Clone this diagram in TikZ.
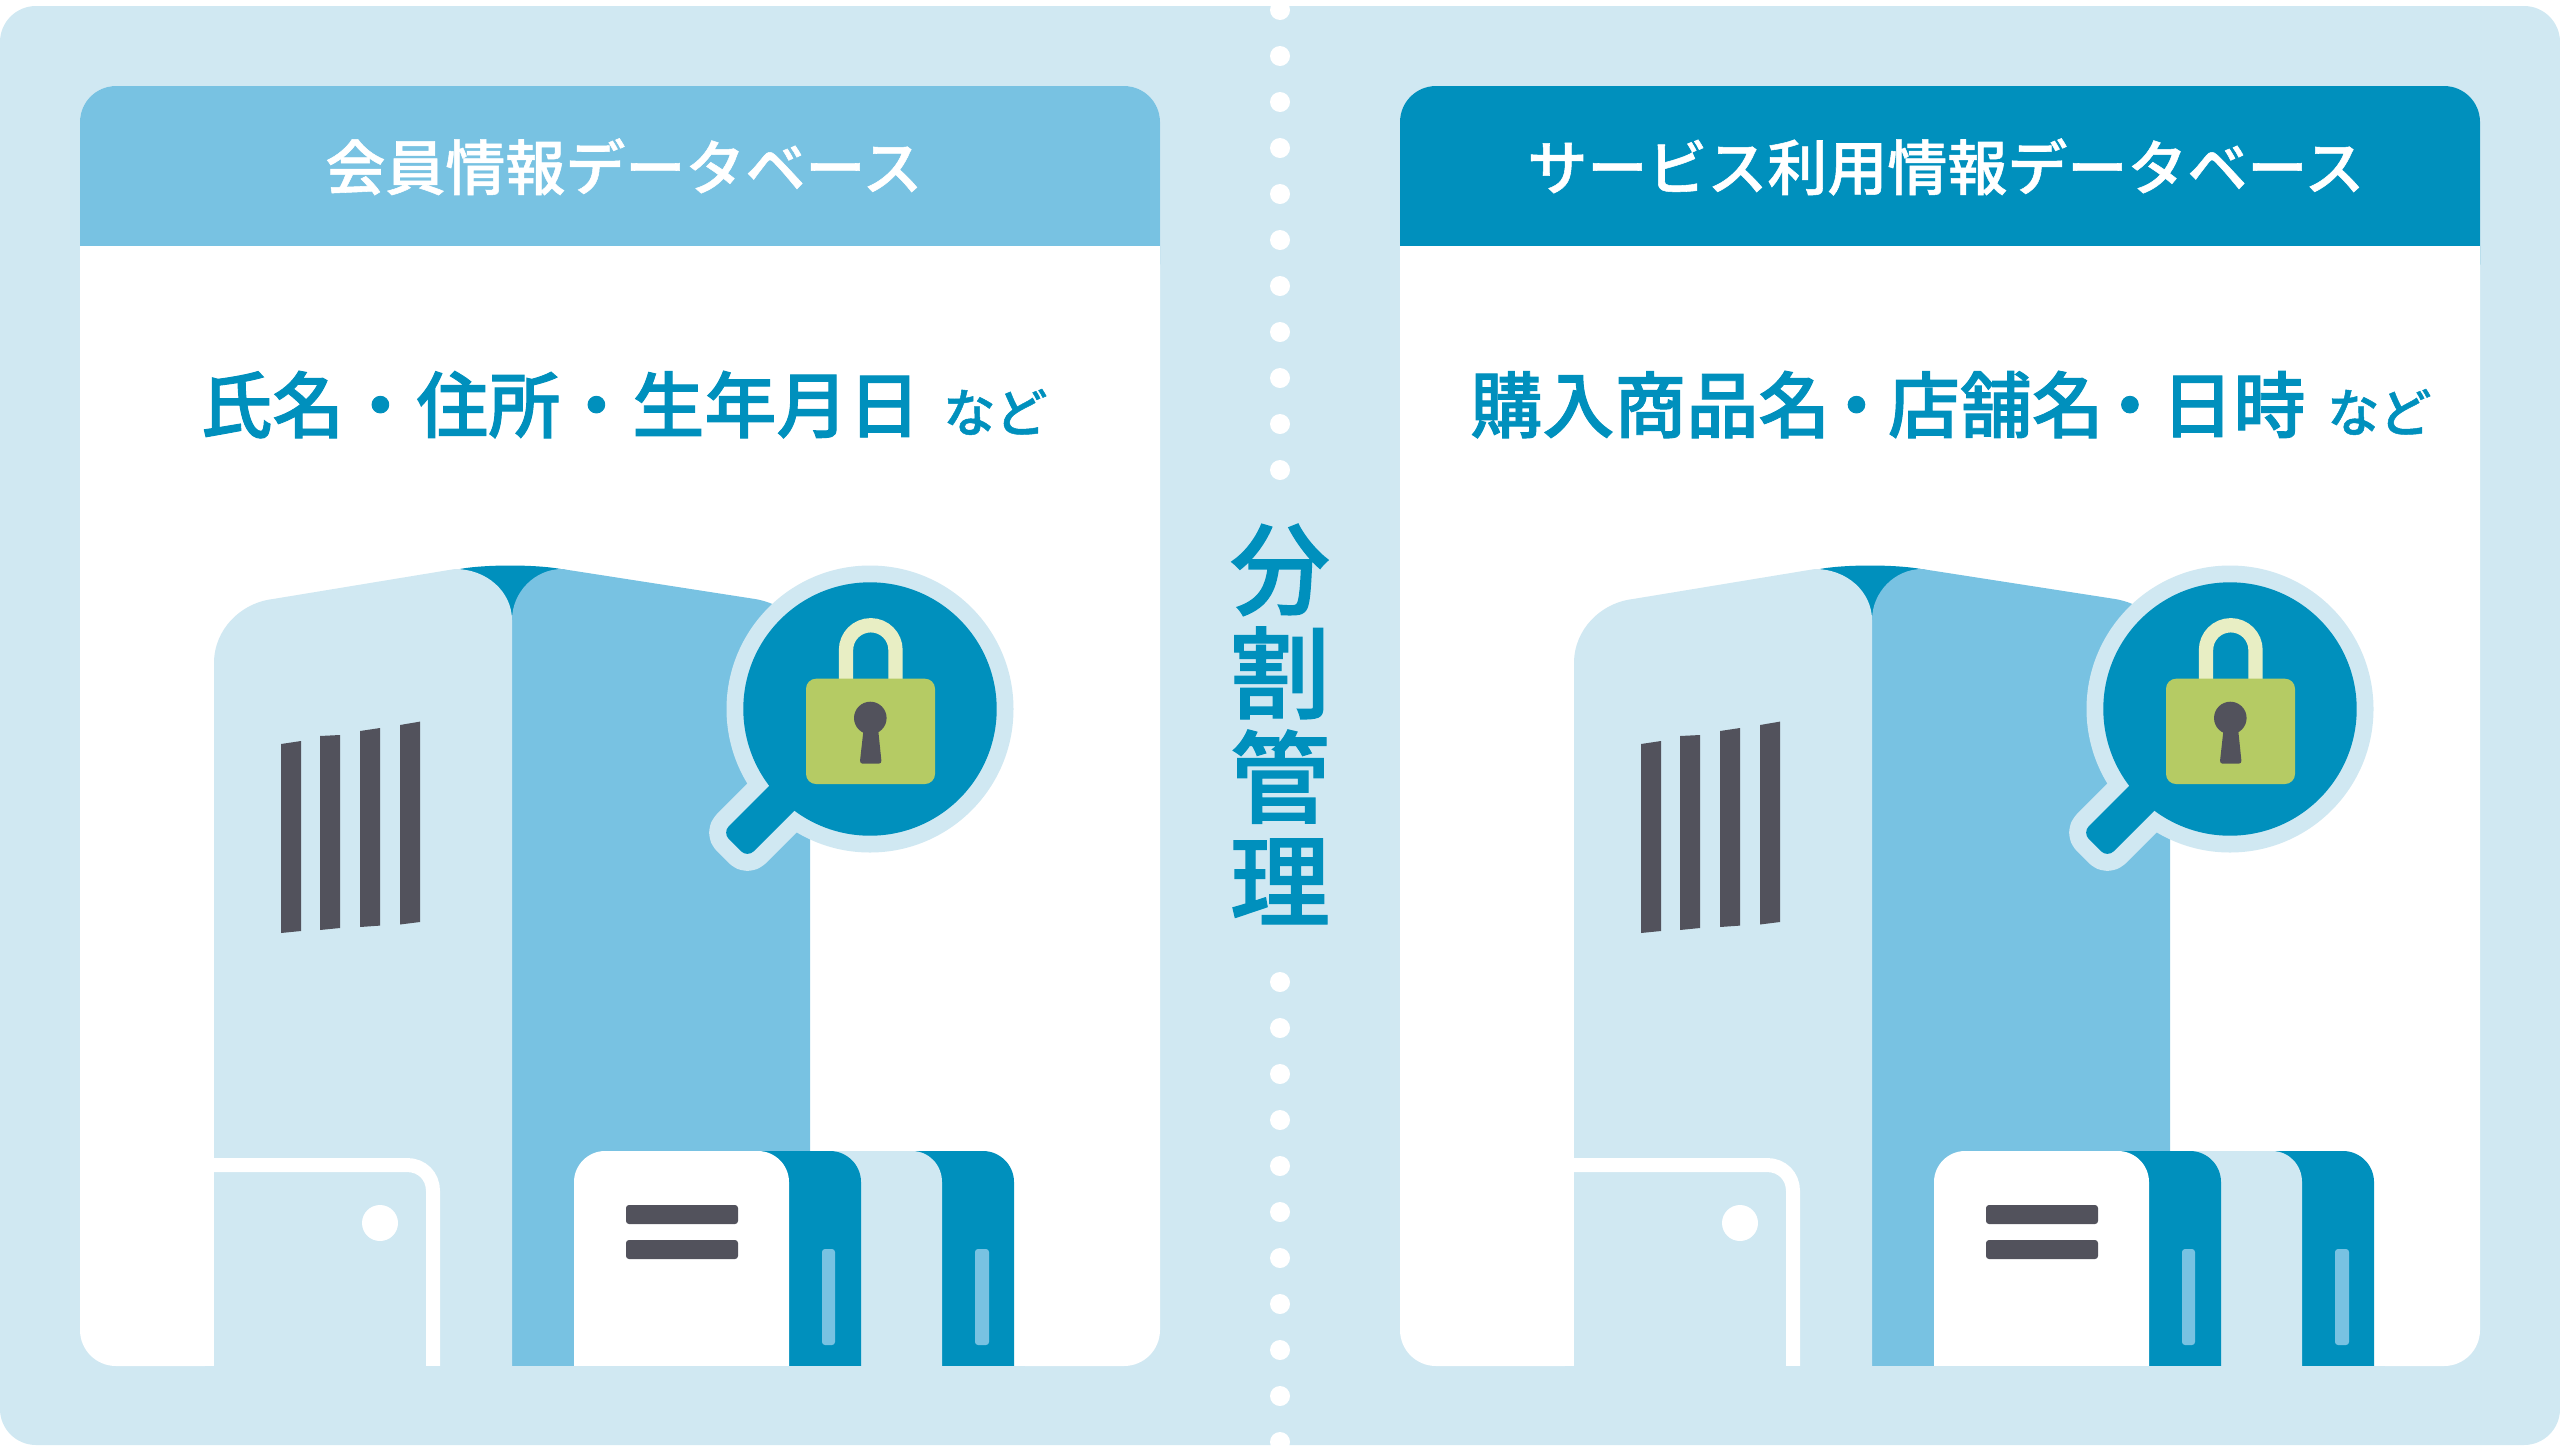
\documentclass[tikz,border=0pt]{standalone}
\usepackage{fontspec}
\newfontfamily\jp{Noto Sans CJK JP Medium}[FakeBold=0.9]
\newfontfamily\jpb{Noto Sans CJK JP Medium}[FakeBold=1.3]
\definecolor{paleblue}{HTML}{D0E8F2}
\definecolor{midblue}{HTML}{78C2E2}
\definecolor{deepblue}{HTML}{0090BD}
\definecolor{slate}{HTML}{52525C}
\definecolor{lockgreen}{HTML}{B5CB64}
\definecolor{shacklecream}{HTML}{E8EEC4}
\tikzset{
  headtext/.style={anchor=base west,inner sep=0pt,text=white,font=\jp\fontsize{30pt}{30pt}\selectfont},
  bigtext/.style={anchor=base west,inner sep=0pt,text=deepblue,font=\jpb\fontsize{36pt}{36pt}\selectfont},
  smalltext/.style={anchor=base west,inner sep=0pt,text=deepblue,font=\jp\fontsize{26pt}{26pt}\selectfont},
  sidetext/.style={anchor=center,inner sep=0pt,text=deepblue,align=center,font=\jpb\fontsize{50pt}{52pt}\selectfont},
  vent/.style={fill=slate},
  label bar/.style={fill=slate,rounded corners=1.5pt},
  slit/.style={fill=midblue,rounded corners=1.5pt}
}
\newcommand{\tightdot}{\hspace{-5pt}・\hspace{-2.25pt}}
\begin{document}
\begin{tikzpicture}[x=0.5pt,y=-0.5pt]
\useasboundingbox (0,0) rectangle (2560,1452);
% outer band
\fill[paleblue,rounded corners=18pt] (0,6) rectangle (2560,1445);
% dotted divider
\begin{scope}
\clip (0,6) rectangle (2560,1445);
\foreach \yy in {10,56,102,148,194,240,286,332,378,424,470,982,1028,1074,1120,1166,1212,1258,1304,1350,1396,1442}
  \fill[white] (1280,\yy) circle[radius=5pt];
\end{scope}
% the two cards with their header strips
\foreach \cx/\hd in {80/midblue,1400/deepblue}{
  \fill[white,rounded corners=18pt] (\cx,86) rectangle (\cx+1080,1366);
  \fill[\hd,rounded corners=18pt] (\cx,86) -- (\cx+1080,86) -- (\cx+1080,300) -- (\cx,300) -- cycle;
  \fill[white] (\cx,246) rectangle (\cx+1080,320);
}
\node[headtext] (headA) at (325,190) {会員情報データベース};
\node[headtext] (headB) at (1527,190) {サービス利用情報データベース};
\node[bigtext] (itemsA) at (200,432) {氏名・住所・生年月日};
\node[smalltext] (moreA) at (943,432) {など};
\node[bigtext] (itemsB) at (1470,432) {購入商品名\tightdot 店舗名\tightdot 日時};
\node[smalltext] (moreB) at (2327,432) {など};
\node[sidetext] (split) at (1280,724) {分\\割\\管\\理};
% server tower, small cases and magnifier, drawn once per card
\foreach \dx in {0,1360}{
\begin{scope}[xshift=\dx*0.5pt]
  % back edge of the tower
  \fill[deepblue] (455,570) .. controls (480,564) and (540,564) .. (566,570) -- (566,640) -- (455,640) -- cycle;
  % side face
  \fill[midblue] (512,1366) -- (512,620) .. controls (512,592) and (535,569) .. (562,569)
    -- (755,599) .. controls (790,605) and (810,630) .. (810,665) -- (810,1366) -- cycle;
  % front face
  \fill[paleblue] (214,1366) -- (214,663) .. controls (214,630) and (240,603) .. (273,599)
    -- (455,569) .. controls (487,569) and (512,592) .. (512,620) -- (512,1366) -- cycle;
  % vents
  \fill[vent] (281,744) -- (301,741) -- (301,931) -- (281,933) -- cycle;
  \fill[vent] (320,736) -- (340,735) -- (340,928) -- (320,930) -- cycle;
  \fill[vent] (360,731) -- (380,728) -- (380,925.6) -- (360,927) -- cycle;
  \fill[vent] (400,725) -- (420,721.6) -- (420,922) -- (400,924.5) -- cycle;
  % door outline and knob
  \draw[white,line width=7pt] (214,1165) -- (407,1165) .. controls (422,1165) and (433,1176) .. (433,1191) -- (433,1366);
  \fill[white] (380,1223) circle[radius=9pt];
  % small cases, back to front
  \fill[deepblue] (900,1366) -- (900,1151) -- (983,1151) .. controls (1000,1151) and (1014,1165) .. (1014,1182) -- (1014,1366) -- cycle;
  \fill[paleblue] (810,1366) -- (810,1151) -- (912,1151) .. controls (929,1151) and (942,1165) .. (942,1182) -- (942,1366) -- cycle;
  \fill[deepblue] (740,1366) -- (740,1151) -- (830,1151) .. controls (847,1151) and (861,1165) .. (861,1182) -- (861,1366) -- cycle;
  \fill[white] (574,1366) -- (574,1182) .. controls (574,1165) and (588,1151) .. (605,1151)
    -- (758,1151) .. controls (775,1151) and (789,1165) .. (789,1182) -- (789,1366) -- cycle;
  \fill[label bar] (626,1205) rectangle (738,1224);
  \fill[label bar] (626,1240) rectangle (738,1259);
  \fill[slit] (822,1249) rectangle (835,1345);
  \fill[slit] (975,1249) rectangle (989,1345);
  % floor edge kept crisp under the whole group
  \fill[paleblue] (205,1366) rectangle (1025,1374);
  % magnifier: light rim under a deep blue lens and handle
  \fill[paleblue] (870,709) circle[radius=71.75pt];
  \filldraw[paleblue,line width=17pt,line join=round,rounded corners=4.5pt]
    (789,766) -- (722.4,832.6) -- (747.4,857.6) -- (814,791) -- cycle;
  \fill[deepblue] (870,709) circle[radius=63.35pt];
  \fill[deepblue,rounded corners=4.5pt] (789,766) -- (722.4,832.6) -- (747.4,857.6) -- (814,791) -- cycle;
  % padlock
  \draw[shacklecream,line width=7.15pt] (846,682) -- (846,650) .. controls (846,636.3) and (857.05,625.25) .. (870.75,625.25)
    .. controls (884.45,625.25) and (895.5,636.3) .. (895.5,650) -- (895.5,682);
  \fill[lockgreen,rounded corners=5pt] (806,678.7) rectangle (935,784);
  \fill[slate] (870.3,718) circle[radius=8.15pt];
  \fill[slate,rounded corners=1.5pt] (863.7,728) -- (878,728) -- (881.7,763.7) -- (859.7,763.7) -- cycle;
\end{scope}}
\end{tikzpicture}
\end{document}
